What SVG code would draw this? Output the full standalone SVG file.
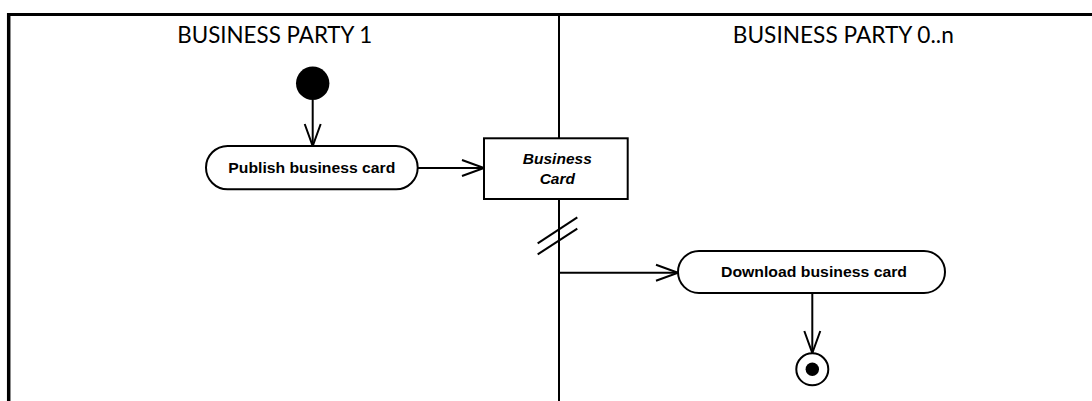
<svg xmlns="http://www.w3.org/2000/svg" width="1092" height="401" viewBox="0 0 1092 401">
<style>
.title{font-family:Lato,"Liberation Sans",Arial,sans-serif;font-size:22.5px;fill:#000;text-anchor:middle}
.lbl{font-family:"Liberation Sans",Arial,sans-serif;font-size:15.5px;font-weight:bold;fill:#000;text-anchor:middle}
.obj{font-style:italic}
.shape{fill:#fff;stroke:#000;stroke-width:2}
.conn{fill:none;stroke:#000;stroke-width:2}
</style>
<defs>
<marker id="open" markerUnits="userSpaceOnUse" markerWidth="26" markerHeight="20" refX="22" refY="8" orient="auto" overflow="visible">
<path d="M0,0 L22,8 L0,16" fill="none" stroke="#000" stroke-width="2"/>
</marker>
</defs>
<rect width="1092" height="401" fill="#fff"/>
<g id="swimlanes">
<line x1="7" y1="14.5" x2="1092" y2="14.5" stroke="#000" stroke-width="3"/>
<line x1="8.7" y1="13" x2="8.7" y2="401" stroke="#000" stroke-width="3.5"/>
<line x1="559" y1="16" x2="559" y2="401" stroke="#000" stroke-width="2"/>
<text class="title" x="274.8" y="43.3" textLength="195" lengthAdjust="spacingAndGlyphs">BUSINESS PARTY 1</text>
<text class="title" x="843.3" y="43.3" textLength="221" lengthAdjust="spacingAndGlyphs">BUSINESS PARTY 0..n</text>
</g>
<g id="connectors">
<line class="conn" x1="312.7" y1="100" x2="312.7" y2="146" marker-end="url(#open)"/>
<line class="conn" x1="418" y1="168" x2="484" y2="168" marker-end="url(#open)"/>
<line class="conn" x1="559" y1="272.7" x2="678" y2="272.7" marker-end="url(#open)"/>
<line class="conn" x1="812.3" y1="293" x2="812.3" y2="353" marker-end="url(#open)"/>
<line class="conn" x1="537.7" y1="243.3" x2="577.3" y2="217.3"/>
<line class="conn" x1="537.7" y1="254.3" x2="577.3" y2="228.7"/>
</g>
<g id="start">
<circle cx="312.7" cy="83.3" r="16.7" fill="#000"/>
</g>
<g id="publish">
<rect class="shape" x="206" y="146" width="211.7" height="43.3" rx="21.6"/>
<text class="lbl" x="311.8" y="172.7" textLength="167" lengthAdjust="spacingAndGlyphs">Publish business card</text>
</g>
<g id="businessCard">
<rect class="shape" x="484" y="138.3" width="143.7" height="60.7"/>
<text class="lbl obj" x="557.3" y="164">Business</text>
<text class="lbl obj" x="557.3" y="184.3">Card</text>
</g>
<g id="download">
<rect class="shape" x="678" y="251" width="267" height="42" rx="21"/>
<text class="lbl" x="814" y="277.3" textLength="186" lengthAdjust="spacingAndGlyphs">Download business card</text>
</g>
<g id="end">
<circle cx="812.3" cy="369.3" r="16" fill="#fff" stroke="#000" stroke-width="2"/>
<circle cx="812.3" cy="369.3" r="6.7" fill="#000"/>
</g>
</svg>
